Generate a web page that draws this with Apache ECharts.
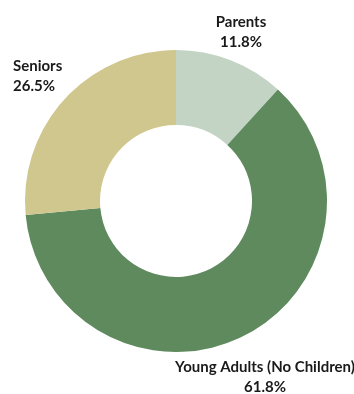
<!DOCTYPE html>
<html>
<head>
<meta charset="utf-8">
<script src="https://cdn.jsdelivr.net/npm/echarts@6/dist/echarts.min.js"></script>
<style>
  html, body { margin: 0; padding: 0; background: #ffffff; }
  #chart { width: 354px; height: 394px; }
</style>
</head>
<body>
<div id="chart"></div>
<script>
// Household segments, clockwise from 12 o'clock
const categories = ['Parents', 'Young Adults (No Children)', 'Seniors'];
const shares = [11.8, 61.8, 26.5];
const colors = ['#c3d4c5', '#5f8a5e', '#cfc78e'];

// Where each label block sits (x, y of its anchor, alignment)
const labelSpots = [
  { x: 241, y: 32, align: 'center' },
  { x: 13, y: 76, align: 'left' },
  { x: 265, y: 377, align: 'center' }
];
const spotIndex = { 'Parents': 0, 'Seniors': 1, 'Young Adults (No Children)': 2 };

const chart = echarts.init(document.getElementById('chart'), null, { renderer: 'canvas' });

chart.setOption({
  backgroundColor: '#ffffff',
  animation: false,
  series: [{
    type: 'pie',
    center: [176, 201],
    radius: [76, 151],
    startAngle: 90,
    clockwise: true,
    avoidLabelOverlap: false,
    silent: true,
    itemStyle: { borderWidth: 0 },
    label: {
      show: true,
      position: 'outside',
      formatter: p => p.name + '\n' + p.value.toFixed(1) + '%',
      fontFamily: 'Lato, "Noto Sans", sans-serif',
      fontWeight: 'bold',
      fontSize: 15,
      lineHeight: 20,
      color: '#1a1a1a'
    },
    labelLine: { show: false },
    labelLayout: function (params) {
      const s = labelSpots[spotIndex[categories[params.dataIndex]]];
      return { x: s.x, y: s.y, align: s.align, verticalAlign: 'middle' };
    },
    data: categories.map((name, i) => ({
      name: name,
      value: shares[i],
      itemStyle: { color: colors[i] }
    }))
  }]
});
</script>
</body>
</html>
